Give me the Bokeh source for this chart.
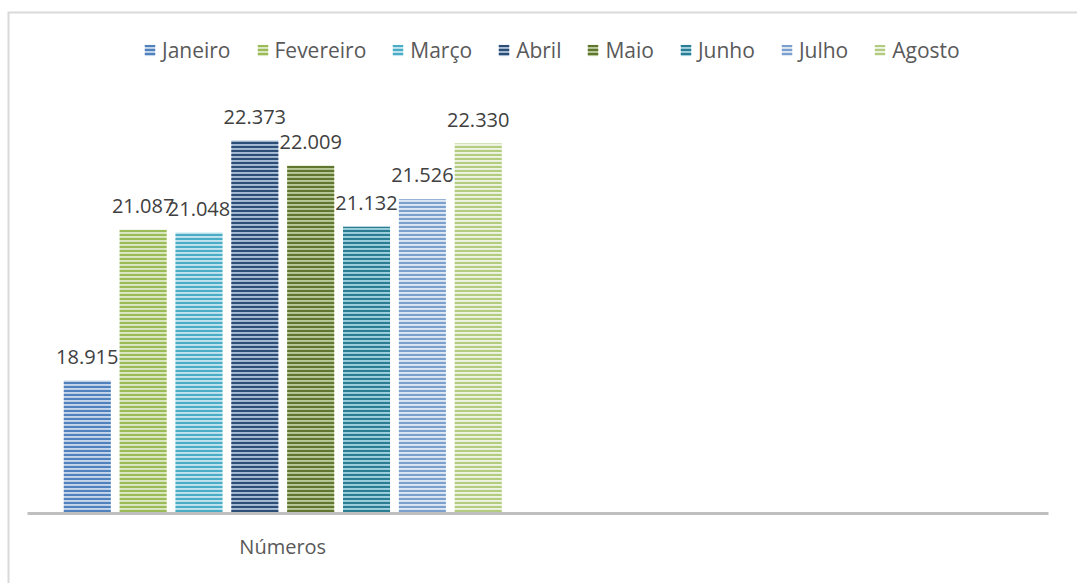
from bokeh.plotting import figure
from bokeh.models import (ColumnDataSource, Range1d, LabelSet, Legend, LegendItem)
from bokeh.core.properties import value
from bokeh.transform import dodge
from bokeh.embed import file_html
from bokeh.resources import INLINE

# ---- data ----
categories = ["Números"]
months = ["Janeiro", "Fevereiro", "Março", "Abril", "Maio", "Junho", "Julho", "Agosto"]
values = [18.915, 21.087, 21.048, 22.373, 22.009, 21.132, 21.526, 22.330]
labels = ["18.915", "21.087", "21.048", "22.373", "22.009", "21.132", "21.526", "22.330"]
stripe_colors = ["#4f81bd", "#9bbb59", "#4bacc6", "#2c4d75", "#5f7530", "#2a7d93", "#7ba0cd", "#b3cc80"]
base_colors = ["#c6d6ea", "#dce8c4", "#c2e4ee", "#a9bcd6", "#b9c99a", "#9fd0de", "#dde7f3", "#eef4e2"]

y_min = 17
cat_center = 0.5
n_cats = 2
step = 0.1094
bar_w = 0.0921

W, H = 1077, 583
x0, x1 = -0.0529, 2.0568
y0, y1 = 15.992, 24.39

p = figure(width=W, height=H, output_backend="svg", toolbar_location=None,
           x_range=Range1d(x0, x1), y_range=Range1d(y0, y1),
           x_axis_location=None, y_axis_location=None,
           min_border_left=0, min_border_right=0, min_border_top=0, min_border_bottom=0)
p.outline_line_color = None
p.xgrid.visible = False
p.ygrid.visible = False
p.background_fill_color = "white"
p.border_fill_color = "white"

# outer chart border (only its left and top edges are inside the window)
px_x = W / (x1 - x0)
px_y = H / (y1 - y0)
bx = x0 + 8 / px_x
by = y1 - 12 / px_y
p.line(x=[bx, bx, x1 + 1], y=[y0 - 1, by, by], line_color="#d9d9d9", line_width=2,
       line_join="miter")

items = []
for i, (m, v, lab) in enumerate(zip(months, values, labels)):
    src = ColumnDataSource(dict(x=[cat_center], top=[v], label=[lab]))
    off = (i - 3.5) * step
    r = p.vbar(x=dodge("x", off, range=p.x_range), top="top", bottom=y_min, width=bar_w,
               source=src, fill_color=base_colors[i], line_color=None,
               hatch_pattern="-", hatch_color=stripe_colors[i], hatch_scale=4, hatch_weight=2.2)
    items.append(LegendItem(label=m, renderers=[r]))
    p.add_layout(LabelSet(x=dodge("x", off, range=p.x_range), y="top", text="label", source=src,
                          text_align="center", text_baseline="alphabetic", y_offset=17,
                          text_font=value("Open Sans"), text_font_size="20px",
                          text_color="#404040"))

# category axis line
p.segment(x0=[0], x1=[n_cats], y0=[y_min], y1=[y_min], line_color="#bfbfbf", line_width=3)

# category label under the axis
cat_src = ColumnDataSource(dict(x=[cat_center], y=[y_min], label=categories))
p.add_layout(LabelSet(x="x", y="y", text="label", source=cat_src, text_align="center",
                      text_baseline="alphabetic", y_offset=-40,
                      text_font=value("Open Sans"), text_font_size="20px",
                      text_color="#595959"))

legend = Legend(items=items, orientation="horizontal", location=(143, 519),
                glyph_width=13, glyph_height=14, label_standoff=6, spacing=25,
                padding=0, margin=0, border_line_color=None, background_fill_alpha=0,
                label_text_font="Open Sans", label_text_font_size="21px",
                label_text_color="#595959")
p.add_layout(legend, "center")

open("out.html", "w").write(file_html(p, INLINE))
